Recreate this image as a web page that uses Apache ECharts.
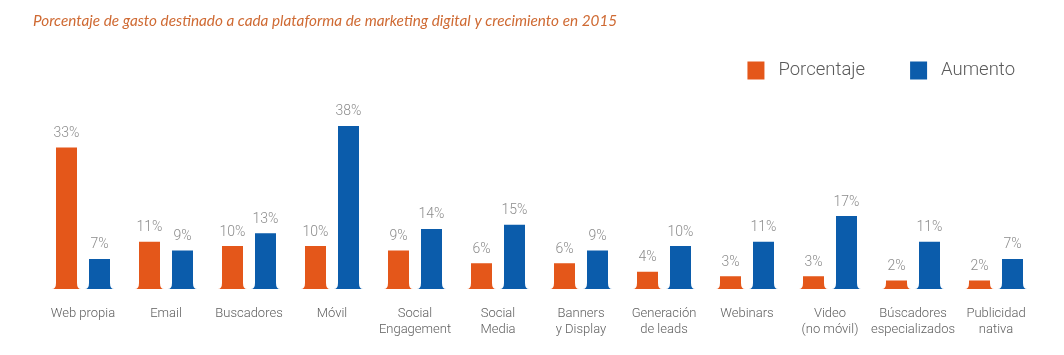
<!DOCTYPE html>
<html><head><meta charset="utf-8">
<script src="https://cdn.jsdelivr.net/npm/echarts@6/dist/echarts.min.js"></script>
<style>html,body{margin:0;padding:0;background:#fff}#c{width:1064px;height:355px}</style>
</head><body><div id="c"></div>
<script>
const categories = ['Web propia','Email','Buscadores','Móvil','Social\nEngagement','Social\nMedia','Banners\ny Display','Generación\nde leads','Webinars','Video\n(no móvil)','Búscadores\nespecializados','Publicidad\nnativa'];
const porcentaje = [33, 11, 10, 10, 9, 6, 6, 4, 3, 3, 2, 2];
const aumento = [7, 9, 13, 38, 14, 15, 9, 10, 11, 17, 11, 7];
const seriesNames = ['Porcentaje', 'Aumento'];
const colors = ['#e4571a', '#0b5cab'];

function makeRender(offset, color) {
  return function (params, api) {
    const idx = api.value(0), val = api.value(1);
    const top = api.coord([idx, val]);
    const base = api.coord([idx, 0]);
    const w = 21, f = 4, fh = 6;
    const cx = top[0] + offset;
    const l = cx - w / 2, r = cx + w / 2, t = top[1], b = base[1];
    const d = `M${l},${t} L${r},${t} L${r},${b - fh} Q${r},${b} ${r + f},${b} L${l - f},${b} Q${l},${b} ${l},${b - fh} Z`;
    return {
      type: 'group',
      children: [
        { type: 'path', shape: { pathData: d }, style: { fill: color } },
        { type: 'text', style: { text: val + '%', x: cx, y: t - 7, align: 'center', verticalAlign: 'bottom', fill: '#8c8c8c', font: '300 14px Roboto' } }
      ]
    };
  };
}

const chart = echarts.init(document.getElementById('c'), null, { renderer: 'canvas' });
chart.setOption({
  animation: false,
  backgroundColor: '#fff',
  title: {
    text: 'Porcentaje de gasto destinado a cada plataforma de marketing digital y crecimiento en 2015',
    left: 28, top: 9,
    textStyle: { fontFamily: 'Lato', fontStyle: 'italic', fontWeight: 'normal', fontSize: 15.3, color: '#cf6a33' }
  },
  legend: {
    right: 44, top: 56,
    icon: 'rect', itemWidth: 17, itemHeight: 18, itemGap: 45,
    textStyle: { fontFamily: 'Roboto', fontWeight: 300, fontSize: 18.5, color: '#5a5a5a', padding: [0, 0, 0, 9] },
    data: seriesNames
  },
  grid: { left: 41.5, right: 26.5, top: 117.4, bottom: 66 },
  xAxis: {
    type: 'category', data: categories,
    axisLine: { show: false }, axisTick: { show: false },
    axisLabel: { interval: 0, margin: 17, fontFamily: 'Roboto', fontWeight: 300, fontSize: 13, lineHeight: 16, color: '#606060' }
  },
  yAxis: { type: 'value', min: 0, max: 40, show: false, splitLine: { show: false } },
  series: [
    { name: seriesNames[0], type: 'custom', itemStyle: { color: colors[0] }, encode: { x: 0, y: 1 },
      data: porcentaje.map((v, i) => [i, v]), renderItem: makeRender(-16.5, colors[0]) },
    { name: seriesNames[1], type: 'custom', itemStyle: { color: colors[1] }, encode: { x: 0, y: 1 },
      data: aumento.map((v, i) => [i, v]), renderItem: makeRender(16.5, colors[1]) }
  ]
});
</script></body></html>
